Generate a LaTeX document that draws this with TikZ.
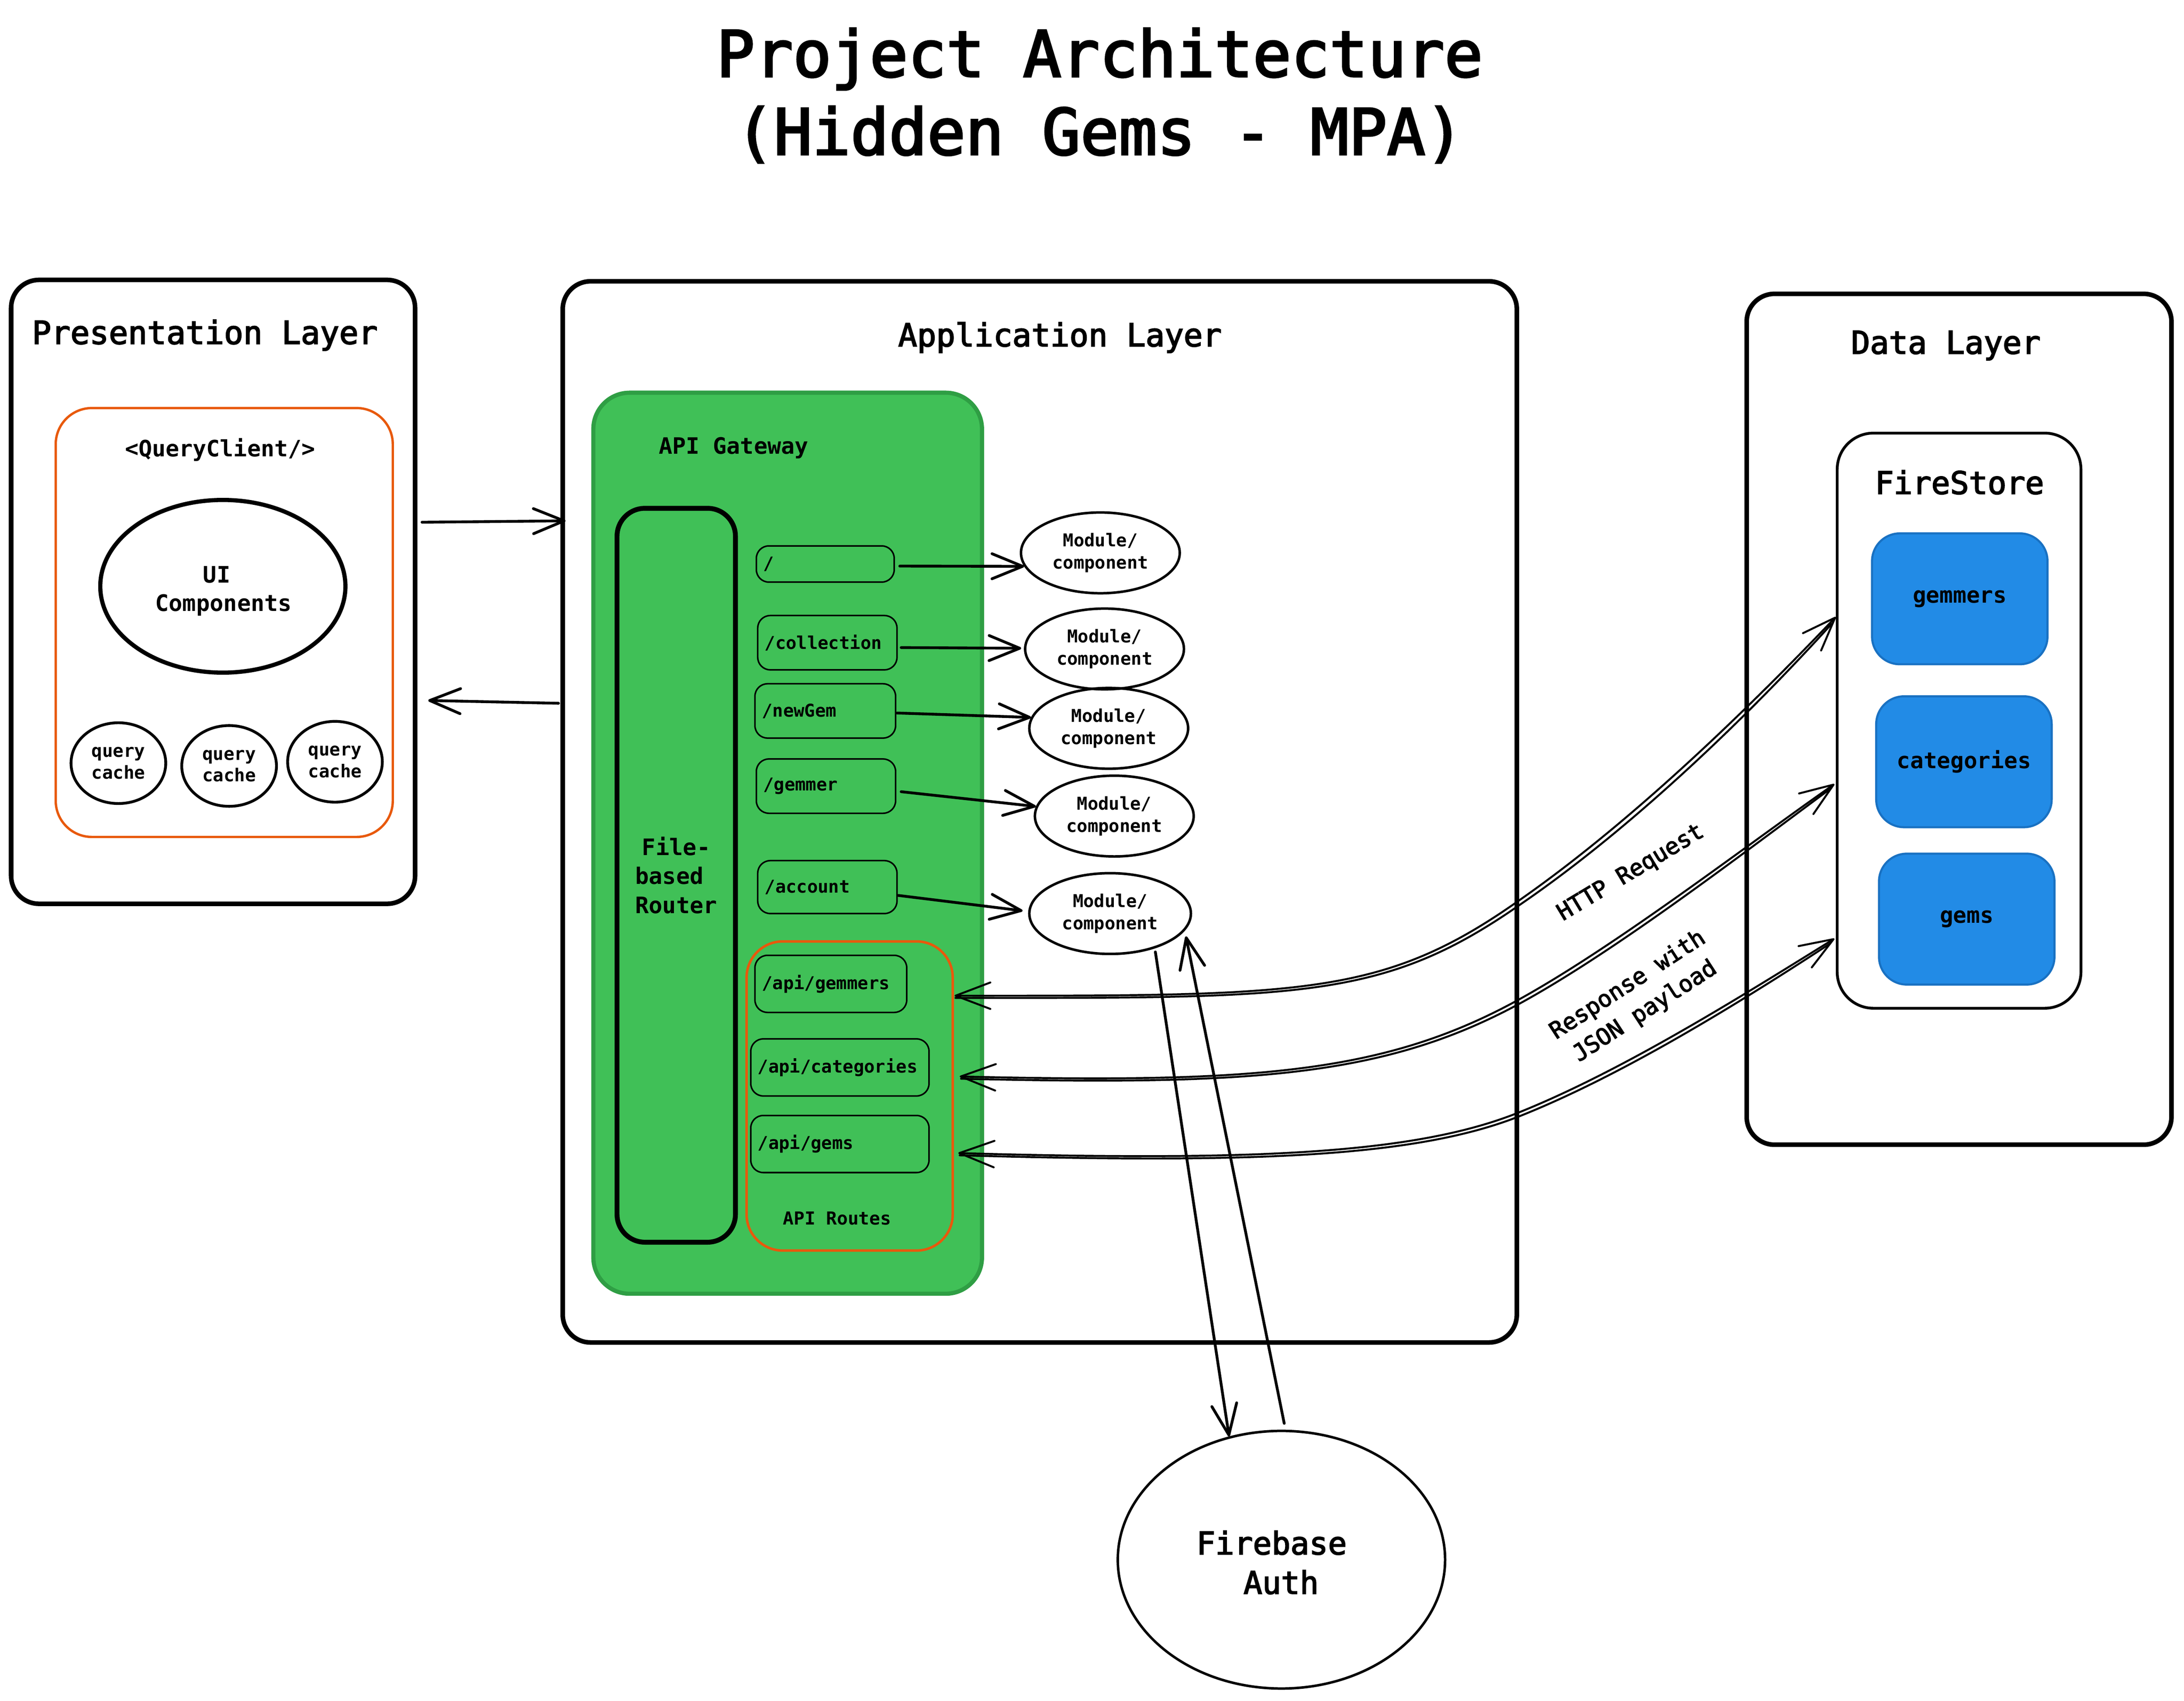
\documentclass[tikz,border=0pt]{standalone}
\usepackage{fontspec}
\setmainfont{DejaVu Sans Mono}
\newfontfamily\fbig{DejaVu Sans Mono}[FakeBold=3]
\usetikzlibrary{arrows.meta,shapes.geometric}
\definecolor{gfill}{HTML}{40C057}
\definecolor{gline}{HTML}{2F9E44}
\definecolor{oline}{HTML}{E8590C}
\definecolor{bfill}{HTML}{228BE6}
\definecolor{bline}{HTML}{1971C2}
\begin{document}
\begin{tikzpicture}[x=1pt,y=-1pt,
  box/.style={rectangle,inner sep=0pt,outer sep=0pt},
  layer/.style={box,draw=black,line width=3.3pt,rounded corners=20pt},
  obox/.style={box,draw=oline,line width=1.7pt,rounded corners=26pt},
  gate/.style={box,draw=gline,fill=gfill,line width=3pt,rounded corners=26pt},
  rtr/.style={box,draw=black,fill=gfill,line width=3.5pt,rounded corners=20pt,align=center,font=\fontsize{16.3}{20.9}\selectfont\bfseries},
  route/.style={box,draw=black,fill=gfill,line width=1.1pt,rounded corners=9pt,inner xsep=5pt,align=left,font=\fontsize{12.7}{16}\selectfont\bfseries},
  modl/.style={ellipse,draw,line width=1.8pt,inner sep=0pt,minimum width=114pt,minimum height=58pt,align=center,font=\fontsize{12.7}{16}\selectfont\bfseries},
  cache/.style={ellipse,draw,line width=2pt,inner sep=0pt,minimum width=68pt,minimum height=58pt,align=center,font=\fontsize{12.8}{15.5}\selectfont\bfseries},
  coll/.style={box,draw=bline,fill=bfill,line width=1.5pt,rounded corners=20pt,minimum width=126pt,minimum height=94pt,font=\fontsize{16}{20}\selectfont\bfseries},
  lbl/.style={inner sep=0pt,outer sep=0pt},
  arr/.style={line width=2pt,line cap=round,-{Straight Barb[length=22pt,width=18pt,round]}},
  curv/.style={line width=1.4pt,line cap=round,line join=round},
  curvarr/.style={curv,{Straight Barb[length=25pt,width=19pt,round]}-{Straight Barb[length=24pt,width=18pt,round]}},
]
\useasboundingbox (0,0) rectangle (1568,1221.3);

% title
\node[lbl,anchor=base,font=\fbig\fontsize{45.7}{56}\selectfont] (title1) at (789.5,55) {Project Architecture};
\node[lbl,anchor=base,font=\fbig\fontsize{45.7}{56}\selectfont] (title2) at (789.5,111) {(Hidden Gems - MPA)};

% presentation layer
\node[layer,minimum width=290pt,minimum height=448pt] (pres) at (153,425) {};
\node[lbl,anchor=base west,font=\fbig\fontsize{22.9}{28}\selectfont] (prestitle) at (23,247) {Presentation Layer};
\node[obox,minimum width=242pt,minimum height=308pt] (qc) at (161,447) {};
\node[lbl,anchor=base,font=\fontsize{16.2}{20}\selectfont\bfseries] (qctitle) at (158,328) {<QueryClient/>};
\node[ellipse,draw,line width=3pt,inner sep=0pt,minimum width=176pt,minimum height=124pt] (ui) at (160,421) {};
\node[lbl,align=center,font=\fontsize{16.3}{20.5}\selectfont\bfseries] (uitext) at (160.5,424.5) {UI\hphantom{x}\\Components};
\node[cache] (qc1) at (85,548) {query\\cache};
\node[cache] (qc2) at (164.5,550) {query\\cache};
\node[cache] (qc3) at (240.5,547) {query\\cache};

% application layer
\node[layer,minimum width=685pt,minimum height=762pt] (app) at (746.5,583) {};
\node[lbl,anchor=base,font=\fbig\fontsize{22.7}{28}\selectfont] (apptitle) at (761,248.7) {Application Layer};
\node[gate,minimum width=279pt,minimum height=647pt] (gw) at (565.5,605.5) {};
\node[lbl,anchor=base west,font=\fontsize{16.2}{20}\selectfont\bfseries] (gwtitle) at (473,326) {API Gateway};
\node[rtr,minimum width=85pt,minimum height=527pt] (router) at (485.5,628.5) {File-\\based\hphantom{x}\\Router};

\node[route,text width=89pt,minimum height=26pt] (r1) at (592.5,405) {/};
\node[route,text width=90pt,minimum height=39pt] (r2) at (594,461.5) {/collection};
\node[route,text width=91pt,minimum height=39pt] (r3) at (592.5,510.5) {/newGem};
\node[route,text width=90pt,minimum height=39pt] (r4) at (593,564.5) {/gemmer};
\node[route,text width=90pt,minimum height=38pt] (r5) at (594,637) {/account};

\node[obox,line width=1.8pt,minimum width=148pt,minimum height=222pt] (routes) at (610,787) {};
\node[route,text width=99pt,minimum height=41pt] (a1) at (596.5,706.5) {/api/gemmers};
\node[route,text width=118pt,minimum height=41pt] (a2) at (603,766.5) {/api/categories};
\node[route,text width=118pt,minimum height=41pt] (a3) at (603,821.5) {/api/gems};
\node[lbl,anchor=base,font=\fontsize{12.9}{16}\selectfont\bfseries] (routestitle) at (601,879.4) {API Routes};

\node[modl] (m1) at (790,397) {Module/\\component};
\node[modl] (m2) at (793,466) {Module/\\component};
\node[modl] (m3) at (796,523) {Module/\\component};
\node[modl] (m4) at (800,586) {Module/\\component};
\node[modl,minimum width=116pt] (m5) at (797,656) {Module/\\component};

% firebase auth
\node[ellipse,draw,line width=1.8pt,inner sep=0pt,minimum width=235pt,minimum height=185pt] (fb) at (920,1120) {};
\node[lbl,align=center,font=\fbig\fontsize{22.4}{28.3}\selectfont] (fbtext) at (913,1122) {Firebase\\\hphantom{x}Auth};

% data layer
\node[layer,minimum width=305pt,minimum height=611pt] (data) at (1406.5,516.5) {};
\node[lbl,anchor=base,font=\fbig\fontsize{22.6}{28}\selectfont] (datatitle) at (1397,254) {Data Layer};
\node[box,draw=black,line width=2pt,rounded corners=26pt,minimum width=175pt,minimum height=413pt] (fs) at (1406.5,517.5) {};
\node[lbl,anchor=base,font=\fbig\fontsize{22.4}{28}\selectfont] (fstitle) at (1406.8,354.7) {FireStore};
\node[coll] (gemmers) at (1407,430) {gemmers};
\node[coll] (categories) at (1410,547) {categories};
\node[coll] (gems) at (1412,660) {gems};

% presentation <-> application
\draw[arr] ([shift={(5,-50)}]pres.east) -- ([shift={(2,-209)}]app.west);
\draw[arr] ([shift={(-3,-78)}]app.west) -- ([shift={(9.5,78)}]pres.east);

% routes -> modules
\draw[arr] ([shift={(4,1.5)}]r1.east) -- (m1.190);
\draw[arr] ([shift={(3,3.5)}]r2.east) -- ([shift={(-2,-0.5)}]m2.west);
\draw[arr] ([shift={(1,1.5)}]r3.east) -- (m3.172);
\draw[arr] ([shift={(4,4)}]r4.east) -- (m4.173);
\draw[arr] ([shift={(1,6)}]r5.east) -- ([shift={(-4,-2)}]m5.west);

% module <-> firebase
\draw[arr] ([shift={(2,2)}]m5.320) -- (fb.113);
\draw[arr] ([shift={(2,-4.5)}]fb.north) -- ([shift={(4,1)}]m5.343);

% api routes <-> firestore
\coordinate (c1a) at ([shift={(1.3,-72)}]routes.east);
\coordinate (c1m) at (1090,647);
\coordinate (c1b) at ([shift={(-1,-74.5)}]fs.west);
\coordinate (c2a) at ([shift={(5,-14)}]routes.east);
\coordinate (c2m) at (1090,718);
\coordinate (c2b) at ([shift={(-2,45.5)}]fs.west);
\coordinate (c3a) at ([shift={(4,41)}]routes.east);
\coordinate (c3m) at (1090,799);
\coordinate (c3b) at ([shift={(-2,156.5)}]fs.west);

\draw[curvarr] (c1a) .. controls (935,715) and (992,716) .. (c1m) .. controls (1172,590) and (1256,508) .. (c1b);
\draw[curv] (686,716.6) .. controls (935,716.6) and (993,718.2) .. (1091.6,649.4) .. controls (1174,593) and (1257.5,511.5) .. (1315,448);

\draw[curvarr] (c2a) .. controls (900,778) and (993.6,771) .. (c2m) .. controls (1160,679.4) and (1251.5,608.8) .. (c2b);
\draw[curv] (690,774.6) .. controls (900,779.6) and (994.5,773) .. (1091.3,720.5) .. controls (1161.5,682) and (1253,611.5) .. (1314,566.5);

\draw[curvarr] (c3a) .. controls (900,834) and (1015.8,828.7) .. (c3m) .. controls (1164.2,769.3) and (1249,716.2) .. (c3b);
\draw[curv] (689,829.6) .. controls (900,835.6) and (1016.5,831) .. (1091,801.5) .. controls (1165.3,772) and (1250.5,719) .. (1314,677.5);

\node[lbl,rotate=31,font=\fbig\fontsize{16.5}{22.6}\selectfont] (httplbl) at (1171,627) {HTTP Request};
\node[lbl,rotate=33,align=center,font=\fbig\fontsize{16.5}{22.6}\selectfont] (resplbl) at (1175,717) {Response with\\JSON payload};
\end{tikzpicture}
\end{document}
